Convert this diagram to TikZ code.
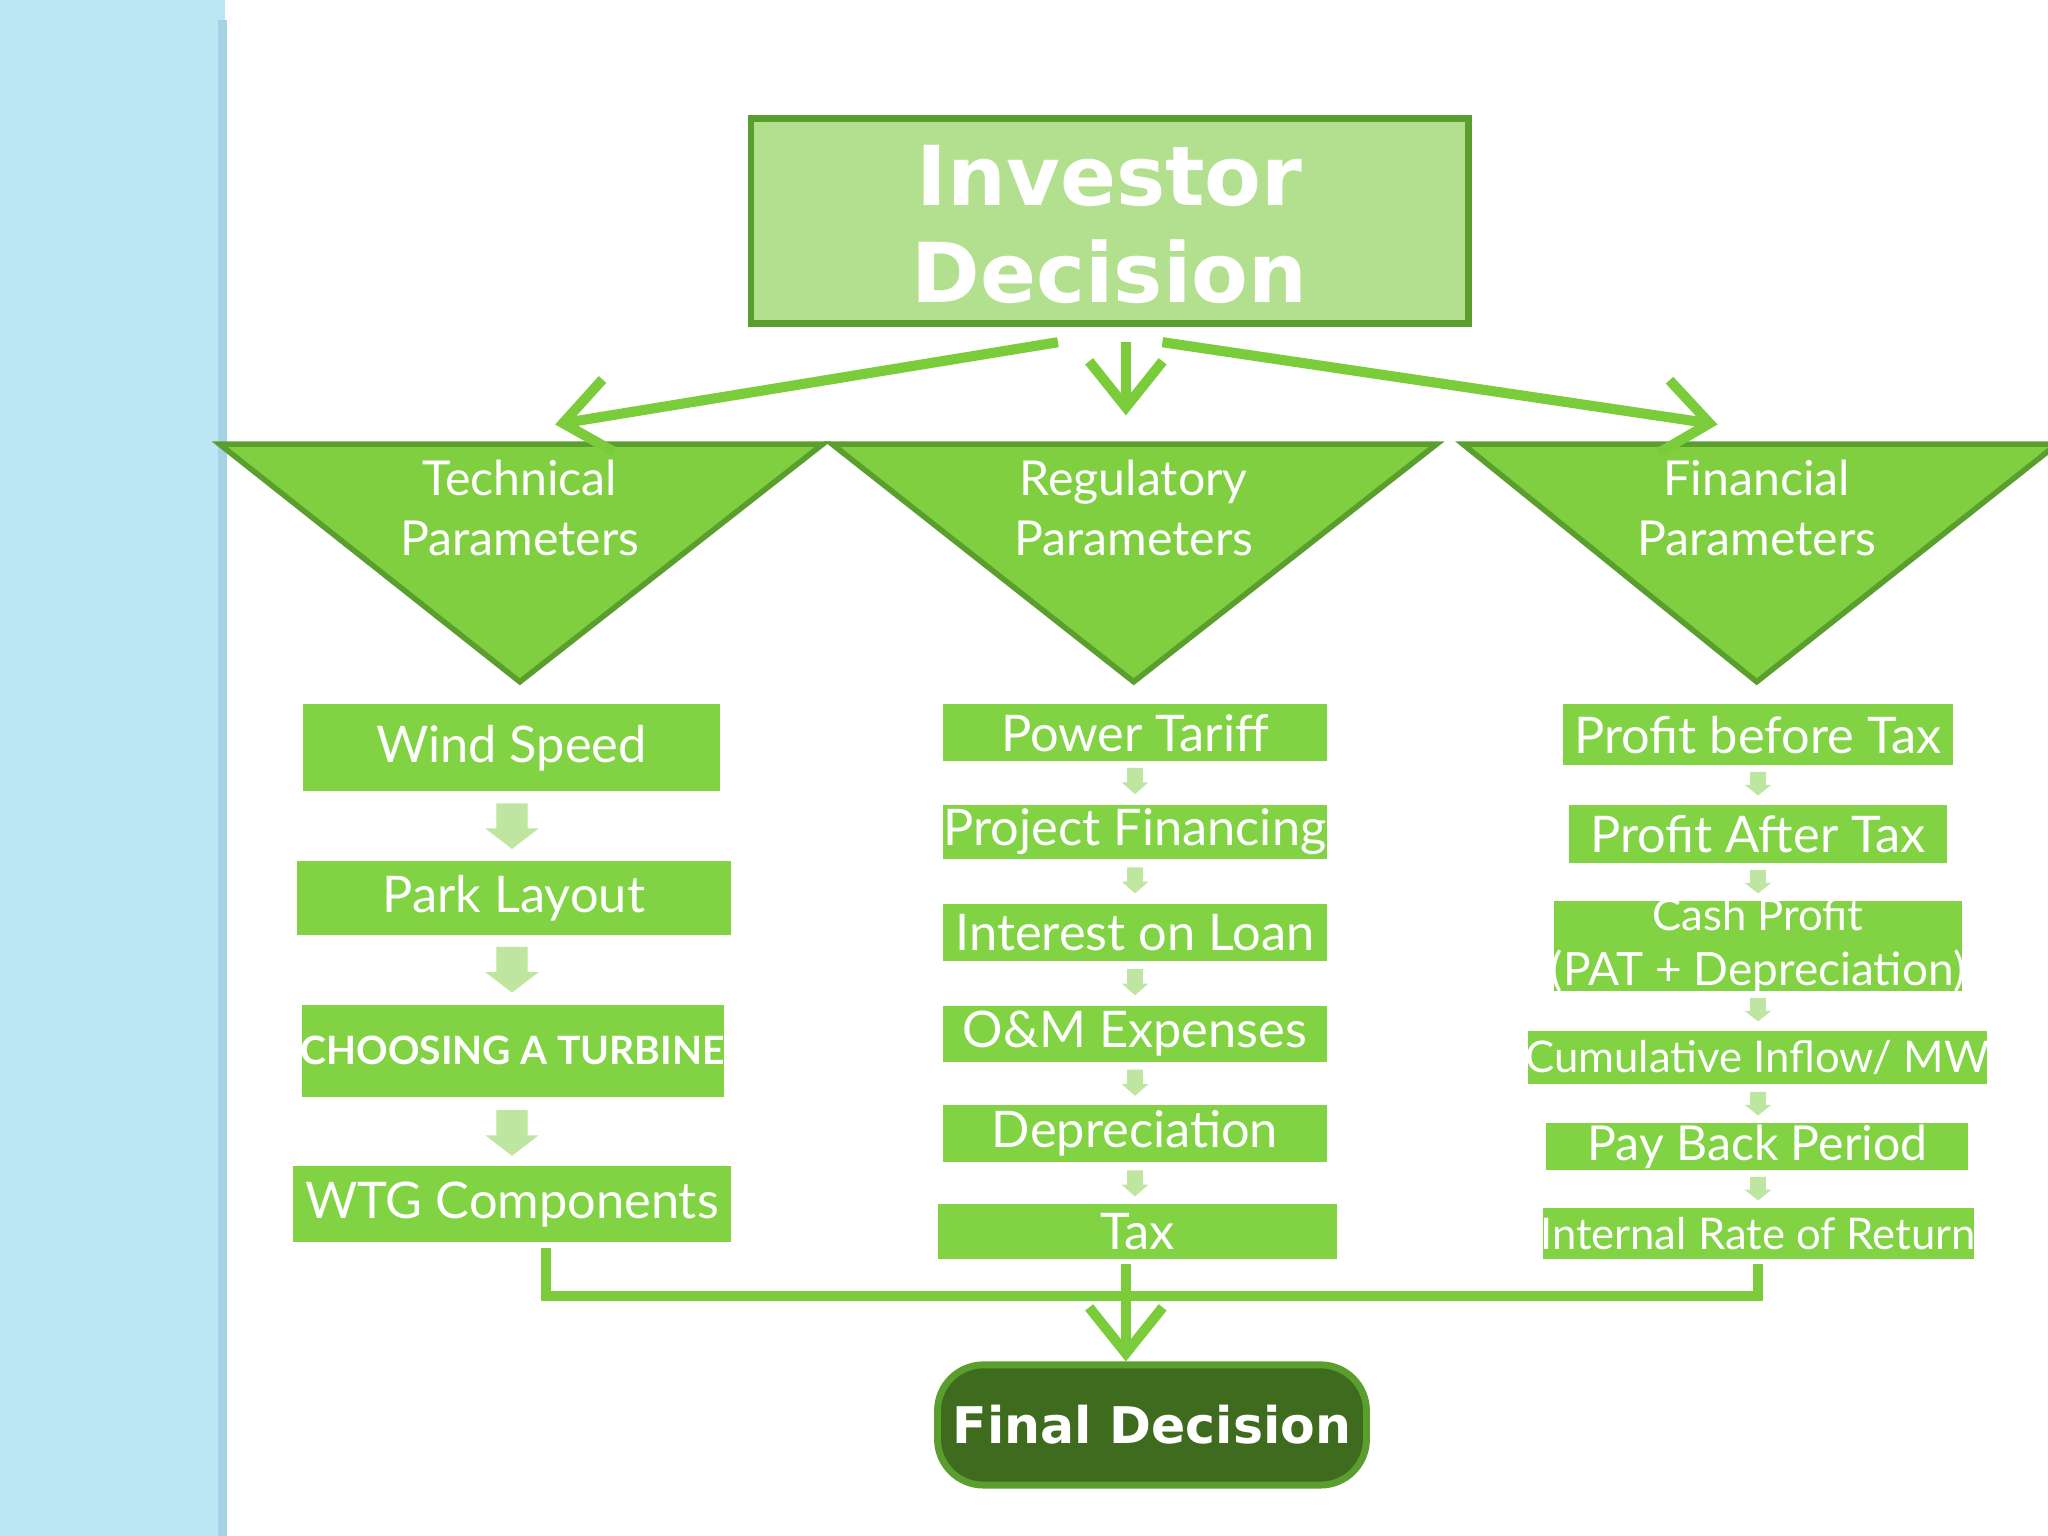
\documentclass[tikz,border=0pt]{standalone}
\usepackage{fontspec}
\setmainfont{Lato}
\newfontfamily\titlefont{DejaVu Sans}
\usetikzlibrary{arrows.meta,shapes.geometric}
\definecolor{gbox}{HTML}{82D344}
\definecolor{gtri}{HTML}{80CF40}
\definecolor{gdark}{HTML}{5A9E2E}
\definecolor{gtop}{HTML}{B3E08E}
\definecolor{gfinal}{HTML}{3E6B1E}
\definecolor{gline}{HTML}{7ACC3A}
\definecolor{garr}{HTML}{BFE6A0}
\definecolor{blueb}{HTML}{BDE6F5}
\definecolor{blueedge}{HTML}{A6D2E6}
\begin{document}
\begin{tikzpicture}[x=0.01cm,y=-0.01cm,
  box/.style={draw=white,line width=1.2pt,fill=gbox,text=white,inner sep=0pt,font=\fontsize{10}{12}\selectfont},
  tri/.style={draw=gdark,line width=1.2pt,fill=gtri},
  tlab/.style={text=white,font=\fontsize{10.5}{13}\selectfont,align=center},
  conn/.style={draw=gline,line width=2.2pt},
  open/.style={-{Straight Barb[length=10pt,width=16pt,line width=2.2pt]}},
  small/.style={fill=garr,draw=none}]
\useasboundingbox (0,0) rectangle (1568,1176);
\fill[white] (0,0) rectangle (1568,1176);
\fill[blueb] (0,0) rectangle (172,1176);
\fill[blueedge] (167,15) rectangle (174,1176);
% top
\draw[draw=gdark,line width=1.5pt,fill=gtop] (575,91) rectangle (1124,248);
\node[text=white,align=center,font=\titlefont\bfseries\fontsize{18}{21}\selectfont] (title) at (849.5,172) {Investor\\Decision};
% triangles
\draw[tri] (168,340) -- (630,340) -- (398,522) -- cycle;
\draw[tri] (637,340) -- (1100,340) -- (868,522) -- cycle;
\draw[tri] (1120,340) -- (1575,340) -- (1345,522) -- cycle;
\node[tlab] (tech) at (398,389) {Technical\\Parameters};
\node[tlab] (reg) at (868,389) {Regulatory\\Parameters};
\node[tlab] (fin) at (1345,389) {Financial\\Parameters};
\coordinate (a1) at (810,262); \coordinate (a1e) at (425,325);
\coordinate (a2) at (862,262); \coordinate (a2e) at (862,318);
\coordinate (a3) at (890,262); \coordinate (a3e) at (1315,325);
\draw[conn,open] (a1) -- (a1e);
\draw[conn,open] (a2) -- (a2e);
\draw[conn,open] (a3) -- (a3e);
\def\sarr#1#2#3#4{\fill[small] (#1-#3,#2) rectangle (#1+#3,#2+#4*0.55) -- (#1+#3*1.7,#2+#4*0.55) -- (#1,#2+#4) -- (#1-#3*1.7,#2+#4*0.55) -- (#1-#3,#2+#4*0.55);}
% left column
\node[box,minimum width=3.23cm,minimum height=0.71cm] (ws) at (391.5,572.5) {\fontsize{11}{13}\selectfont Wind Speed};
\node[box,minimum width=3.37cm,minimum height=0.61cm] (pl) at (393.5,687.5) {\fontsize{11}{13}\selectfont Park Layout};
\node[box,minimum width=3.27cm,minimum height=0.75cm] (ct) at (392.5,804.5) {\bfseries\fontsize{8.5}{11}\selectfont CHOOSING A TURBINE};
\node[box,minimum width=3.40cm,minimum height=0.62cm] (wtg) at (392,922) {\fontsize{11}{13}\selectfont WTG Components};
\sarr{392}{615}{12}{35}
\sarr{392}{725}{12}{35}
\sarr{392}{850}{12}{35}
% middle column
\node[box,minimum width=2.98cm,minimum height=0.48cm] (pt) at (869,561) {\fontsize{11}{13}\selectfont Power Tariff};
\node[box,minimum width=2.98cm,minimum height=0.46cm] (pf) at (869,637) {\fontsize{11}{13}\selectfont Project Financing};
\node[box,minimum width=2.98cm,minimum height=0.48cm] (il) at (869,714) {\fontsize{11}{13}\selectfont Interest on Loan};
\node[box,minimum width=2.98cm,minimum height=0.47cm] (om) at (869,791.5) {\fontsize{11}{13}\selectfont O\&M Expenses};
\node[box,minimum width=2.98cm,minimum height=0.48cm] (dep) at (869,868) {\fontsize{11}{13}\selectfont Depreciation};
\node[box,minimum width=3.10cm,minimum height=0.46cm] (tax) at (871,943) {\fontsize{11}{13}\selectfont Tax};
\foreach \y in {588,664,742,819,896} {\sarr{869}{\y}{6}{20}}
% right column
\node[box,minimum width=3.02cm,minimum height=0.51cm] (pbt) at (1346,562.5) {\fontsize{11}{13}\selectfont Profit before Tax};
\node[box,minimum width=2.94cm,minimum height=0.49cm] (pat) at (1346,638.5) {\fontsize{11}{13}\selectfont Profit After Tax};
\node[box,minimum width=3.14cm,minimum height=0.71cm,align=center] (cp) at (1346,724.5) {\fontsize{9.5}{11.5}\selectfont Cash Profit\\(PAT + Depreciation)};
\node[box,minimum width=3.29cm,minimum height=0.45cm] (ci) at (1345.5,809.5) {\fontsize{9.5}{11.5}\selectfont Cumulative Inflow/ MW};
\node[box,minimum width=3.27cm,minimum height=0.40cm] (pbp) at (1345.5,878) {\fontsize{10.5}{12.5}\selectfont Pay Back Period};
\node[box,minimum width=3.34cm,minimum height=0.43cm] (irr) at (1346,944.5) {\fontsize{9.5}{11.5}\selectfont Internal Rate of Return};
\foreach \y in {591,666,764,836,901} {\sarr{1346}{\y}{6}{18}}
% bottom
\node[draw=gdark,line width=1.5pt,fill=gfinal,rounded corners=10pt,minimum width=3.26cm,minimum height=0.92cm,text=white,font=\titlefont\bfseries\fontsize{11}{13}\selectfont] (fd) at (882,1091) {Final Decision};
\coordinate (j1) at (418,992); \coordinate (j3) at (1346,992); \coordinate (jm) at (862,992);
\draw[conn] (wtg.south -| j1) -- (j1) -- (j3) -- (irr.south -| j3);
\draw[conn] (tax.south -| jm) -- (jm);
\draw[conn,open] (jm) -- (fd.north -| jm);
\end{tikzpicture}
\end{document}
